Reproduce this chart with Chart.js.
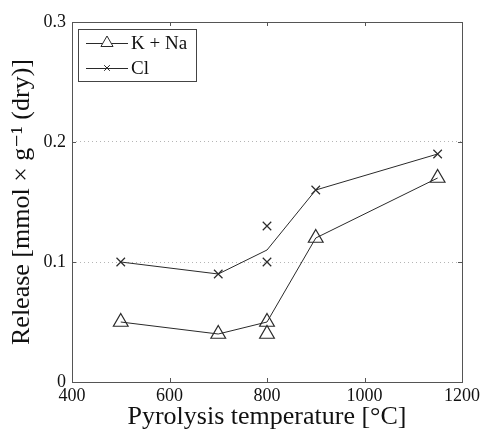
<!DOCTYPE html>
<html>
<head>
<meta charset="utf-8">
<script src="https://cdn.jsdelivr.net/npm/chart.js@4/dist/chart.umd.min.js"></script>
<style>
  html, body { margin: 0; padding: 0; background: #fff; }
  #wrap { width: 484px; height: 433px; }
  .probe { position: absolute; left: -999px; top: 0; font-family: "Liberation Serif"; }
</style>
</head>
<body>
<span class="probe">Release 0.1</span>
<div id="wrap"><canvas id="myChart"></canvas></div>
<script>
// temperatures (°C) and release values
const temps = [500, 700, 800, 900, 1150];
const knaLine = [0.05, 0.04, 0.05, 0.12, 0.17];
const clLine = [0.10, 0.09, 0.11, 0.16, 0.19];
// repeat measurements at 800 °C that sit off the line
const knaExtraT = [800];
const knaExtra = [0.04];
const clExtraT = [800, 800];
const clExtra = [0.13, 0.10];
// markers per point on the Cl line (the 800 °C line point is a mean, no marker)
const clMarker = [1, 1, 0, 1, 1];

const xTicks = [400, 600, 800, 1000, 1200];
const yTicks = [0, 0.1, 0.2, 0.3];

const serif = '"Liberation Serif", "DejaVu Serif", serif';
const ink = '#2a2a2a';

function pts(xs, ys) {
  return xs.map((x, i) => ({ x: x, y: ys[i] }));
}

const triR = 8.5, crossR = 6;

const data = {
  datasets: [{
    label: 'K + Na',
    data: pts(temps, knaLine),
    borderColor: ink,
    borderWidth: 1,
    showLine: true,
    pointStyle: 'triangle',
    pointRadius: triR,
    pointBackgroundColor: 'rgba(0,0,0,0)',
    pointBorderColor: ink,
    pointBorderWidth: 1.2
  }, {
    label: 'Cl',
    data: pts(temps, clLine),
    borderColor: ink,
    borderWidth: 1,
    showLine: true,
    pointStyle: 'crossRot',
    pointRadius: clMarker.map(m => m ? crossR : 0),
    pointBorderColor: ink,
    pointBorderWidth: 1.2
  }, {
    label: '_knaExtra',
    data: pts(knaExtraT, knaExtra),
    showLine: false,
    pointStyle: 'triangle',
    pointRadius: triR,
    pointBackgroundColor: 'rgba(0,0,0,0)',
    pointBorderColor: ink,
    pointBorderWidth: 1.2
  }, {
    label: '_clExtra',
    data: pts(clExtraT, clExtra),
    showLine: false,
    pointStyle: 'crossRot',
    pointRadius: crossR,
    pointBorderColor: ink,
    pointBorderWidth: 1.2
  }]
};

// box round the plot, small inward ticks and the legend box inside
const framePlugin = {
  id: 'frame',
  afterDatasetsDraw(chart) {
    const ctx = chart.ctx;
    const a = chart.chartArea;
    const xs = chart.scales.x, ys = chart.scales.y;
    ctx.save();
    ctx.strokeStyle = '#555';
    ctx.lineWidth = 1;
    ctx.strokeRect(Math.round(a.left) + 0.5, Math.round(a.top) + 0.5,
      Math.round(a.right - a.left), Math.round(a.bottom - a.top));
    const t = 4;
    ctx.beginPath();
    xTicks.forEach(v => {
      const px = Math.round(xs.getPixelForValue(v)) + 0.5;
      ctx.moveTo(px, a.bottom); ctx.lineTo(px, a.bottom - t);
      ctx.moveTo(px, a.top); ctx.lineTo(px, a.top + t);
    });
    yTicks.forEach(v => {
      const py = Math.round(ys.getPixelForValue(v)) + 0.5;
      ctx.moveTo(a.left, py); ctx.lineTo(a.left + t, py);
      ctx.moveTo(a.right, py); ctx.lineTo(a.right - t, py);
    });
    ctx.stroke();

    // legend
    const bx = a.left + 6, by = a.top + 7, bw = 118, bh = 52;
    ctx.fillStyle = '#fff';
    ctx.fillRect(bx, by, bw, bh);
    ctx.strokeStyle = '#444';
    ctx.strokeRect(bx + 0.5, by + 0.5, bw, bh);
    const items = [chart.data.datasets[0], chart.data.datasets[1]];
    items.forEach((ds, i) => {
      const y = by + 14 + i * 25;
      ctx.strokeStyle = ink;
      ctx.beginPath();
      ctx.moveTo(bx + 8, y + 0.5);
      ctx.lineTo(bx + 50, y + 0.5);
      ctx.stroke();
      const r = ds.pointStyle === 'triangle' ? 7 : 4;
      Chart.helpers.drawPoint(ctx, {
        pointStyle: ds.pointStyle, radius: r, borderWidth: 1, rotation: 0
      }, bx + 29, y);
      ctx.fillStyle = '#111';
      ctx.font = '19px ' + serif;
      ctx.textBaseline = 'middle';
      ctx.textAlign = 'left';
      ctx.fillText(ds.label, bx + 53, y + 1);
    });
    ctx.restore();
  }
};

const config = {
  type: 'scatter',
  data: data,
  options: {
    responsive: true,
    maintainAspectRatio: false,
    animation: false,
    layout: { padding: { left: 0, right: 22, top: 22, bottom: 0 } },
    plugins: {
      legend: { display: false },
      tooltip: { enabled: false }
    },
    scales: {
      x: {
        type: 'linear',
        min: 400,
        max: 1200,
        afterBuildTicks: s => { s.ticks = xTicks.map(v => ({ value: v })); },
        afterFit: s => { s.height = 51; },
        grid: { display: false, drawTicks: false },
        border: { display: false },
        ticks: {
          padding: 3,
          color: '#111',
          font: { family: serif, size: 18 },
          callback: v => String(v)
        },
        title: {
          display: true,
          text: 'Pyrolysis temperature [°C]',
          color: '#111',
          font: { family: serif, size: 26 },
          padding: { top: 0, bottom: 0 }
        }
      },
      y: {
        type: 'linear',
        min: 0,
        max: 0.3,
        afterBuildTicks: s => { s.ticks = yTicks.map(v => ({ value: v })); },
        afterFit: s => { s.width = 72; },
        grid: {
          drawTicks: false,
          color: c => (c.tick && (c.tick.value === 0.1 || c.tick.value === 0.2)) ? '#b5b5b5' : 'rgba(0,0,0,0)',
          lineWidth: 1
        },
        border: { display: false, dash: [1, 3] },
        ticks: {
          padding: 6,
          color: '#111',
          font: { family: serif, size: 18 },
          callback: v => String(v)
        },
        title: {
          display: true,
          text: 'Release [mmol × g⁻¹ (dry)]',
          color: '#111',
          font: { family: serif, size: 26 },
          padding: { top: 7, bottom: 0 }
        }
      }
    }
  },
  plugins: [framePlugin]
};

var myChart;
document.fonts.load('18px "Liberation Serif"').then(() => {
  myChart = new Chart(document.getElementById('myChart'), config);
});
</script>
</body>
</html>
